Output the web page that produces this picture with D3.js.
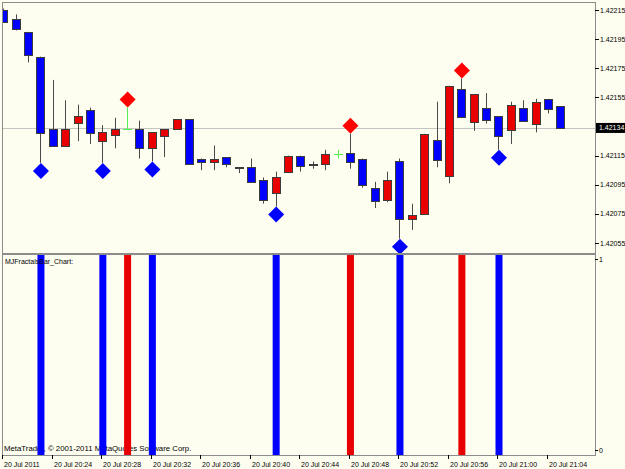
<!DOCTYPE html>
<html>
<head>
<meta charset="utf-8">
<script src="https://cdn.jsdelivr.net/npm/d3@7"></script>
<style>
    body { margin: 0; background: #fefef0; }
    text { font-family: "Liberation Sans", Arial, sans-serif; font-size: 7px; fill: #000; }
</style>
</head>
<body>
<div id="chart"></div>
<script>

// one-minute bars, 20 Jul 2011 20:20 .. 21:05
const barTimes = d3.timeMinute.range(new Date(2011, 6, 20, 20, 20), new Date(2011, 6, 20, 21, 6));

const opens  = [1.42215, 1.42209, 1.42200, 1.42183, 1.42133, 1.42121, 1.42137, 1.42146, 1.42125, 1.42129,
                1.42133, 1.42133, 1.42120, 1.42128, 1.42133, 1.42140, 1.42113, 1.42111, 1.42114, 1.42106,
                1.42107, 1.42098, 1.42089, 1.42104, 1.42115, 1.42108, 1.42109, 1.42116, 1.42117, 1.42113,
                1.42093, 1.42084, 1.42111, 1.42071, 1.42075, 1.42126, 1.42101, 1.42161, 1.42138, 1.42148,
                1.42142, 1.42133, 1.42148, 1.42137, 1.42154, 1.42149];
const highs  = [1.42216, 1.42212, 1.42200, 1.42183, 1.42167, 1.42153, 1.42150, 1.42148, 1.42136, 1.42141,
                1.42148, 1.42139, 1.42131, 1.42133, 1.42140, 1.42140, 1.42113, 1.42122, 1.42114, 1.42107,
                1.42113, 1.42100, 1.42104, 1.42115, 1.42115, 1.42111, 1.42119, 1.42119, 1.42130, 1.42113,
                1.42097, 1.42104, 1.42113, 1.42082, 1.42130, 1.42152, 1.42163, 1.42168, 1.42157, 1.42158,
                1.42142, 1.42152, 1.42153, 1.42154, 1.42154, 1.42149];
const lows   = [1.42207, 1.42201, 1.42179, 1.42110, 1.42121, 1.42121, 1.42125, 1.42123, 1.42110, 1.42120,
                1.42133, 1.42113, 1.42111, 1.42114, 1.42133, 1.42109, 1.42105, 1.42105, 1.42107, 1.42103,
                1.42097, 1.42082, 1.42080, 1.42103, 1.42104, 1.42106, 1.42105, 1.42113, 1.42106, 1.42093,
                1.42079, 1.42083, 1.42058, 1.42064, 1.42075, 1.42107, 1.42096, 1.42142, 1.42132, 1.42137,
                1.42119, 1.42123, 1.42139, 1.42131, 1.42144, 1.42134];
const closes = [1.42207, 1.42202, 1.42184, 1.42131, 1.42121, 1.42133, 1.42142, 1.42130, 1.42131, 1.42133,
                1.42133, 1.42120, 1.42131, 1.42133, 1.42140, 1.42109, 1.42111, 1.42113, 1.42109, 1.42107,
                1.42097, 1.42084, 1.42100, 1.42115, 1.42108, 1.42109, 1.42116, 1.42116, 1.42111, 1.42095,
                1.42084, 1.42098, 1.42071, 1.42074, 1.42130, 1.42112, 1.42163, 1.42142, 1.42157, 1.42140,
                1.42128, 1.42150, 1.42139, 1.42152, 1.42147, 1.42134];

// bar indexes of the fractals (up = red diamond over the high, down = blue diamond under the low)
const fractalUp = [10, 28, 37];
const fractalDown = [3, 8, 12, 22, 32, 40];

const priceTicks = [1.42215, 1.42195, 1.42175, 1.42155, 1.42115, 1.42095, 1.42075, 1.42055];
const bidPrice = 1.42134;
const timeTicks = ["2011-07-20 20:20", "2011-07-20 20:24", "2011-07-20 20:28", "2011-07-20 20:32",
                   "2011-07-20 20:36", "2011-07-20 20:40", "2011-07-20 20:44", "2011-07-20 20:48",
                   "2011-07-20 20:52", "2011-07-20 20:56", "2011-07-20 21:00", "2011-07-20 21:04"];
const indTicks = [0, 1];
const indName = "MJFractalsBar_Chart:";
const copyright = "MetaTrader, \u00a9 2001-2011 MetaQuotes Software Corp.";


class FractalChart {

    constructor(parentElement) {
        this.parentElement = parentElement;
        this.initVis();
    }

    initVis() {
        let vis = this;

        vis.width = 625;
        vis.height = 469;
        vis.main = {left: 2, right: 595, top: 2, bottom: 253};
        vis.ind = {top: 255, bottom: 455};

        vis.svg = d3.select("#" + vis.parentElement).append("svg")
            .attr("width", vis.width)
            .attr("height", vis.height);

        vis.svg.append("rect")
            .attr("width", vis.width).attr("height", vis.height)
            .attr("fill", "#fefef0");

        let defs = vis.svg.append("defs");
        defs.append("clipPath").attr("id", "clipMain").append("rect")
            .attr("x", vis.main.left).attr("y", vis.main.top)
            .attr("width", vis.main.right - vis.main.left)
            .attr("height", vis.main.bottom - vis.main.top);
        defs.append("clipPath").attr("id", "clipInd").append("rect")
            .attr("x", vis.main.left).attr("y", vis.ind.top)
            .attr("width", vis.main.right - vis.main.left)
            .attr("height", vis.ind.bottom - vis.ind.top);

        const parse = d3.timeParse("%Y-%m-%d %H:%M");
        vis.tickDates = timeTicks.map(parse);

        vis.x = d3.scaleTime()
            .domain([barTimes[0], barTimes[barTimes.length - 1]])
            .range([3.3, 560.4]);
        vis.y = d3.scaleLinear()
            .domain([1.42055, 1.42215])
            .range([243, 10]);
        vis.yInd = d3.scaleLinear()
            .domain([0, 1])
            .range([vis.ind.bottom, vis.ind.top]);

        vis.bars = barTimes.map((t, i) => ({
            t: t, open: opens[i], high: highs[i], low: lows[i], close: closes[i]
        }));

        vis.updateVis();
    }

    updateVis() {
        let vis = this;
        const red = "#e80000", blue = "#0000ff", doji = "#55ee55";
        const bodyW = 8;

        // bid line
        vis.svg.append("line")
            .attr("x1", vis.main.left).attr("x2", vis.main.right)
            .attr("y1", Math.round(vis.y(bidPrice)) + 0.5).attr("y2", Math.round(vis.y(bidPrice)) + 0.5)
            .attr("stroke", "#c4c4c0");

        let chart = vis.svg.append("g").attr("clip-path", "url(#clipMain)");

        let colorOf = d => d.close > d.open ? red : (d.close < d.open ? blue : doji);

        // wicks
        chart.selectAll(".wick").data(vis.bars).enter().append("line")
            .attr("class", "wick")
            .attr("x1", d => Math.round(vis.x(d.t)) + 0.5)
            .attr("x2", d => Math.round(vis.x(d.t)) + 0.5)
            .attr("y1", d => vis.y(d.high))
            .attr("y2", d => vis.y(d.low))
            .attr("stroke", d => d.close === d.open ? doji : "#4a4a4a")
            .attr("stroke-width", 1);

        // bodies
        chart.selectAll(".body").data(vis.bars.filter(d => d.close !== d.open)).enter().append("rect")
            .attr("class", "body")
            .attr("x", d => Math.round(vis.x(d.t)) - bodyW / 2 + 0.5)
            .attr("y", d => Math.round(vis.y(Math.max(d.open, d.close))) + 0.5)
            .attr("width", bodyW)
            .attr("height", d => Math.max(1, Math.round(Math.abs(vis.y(d.open) - vis.y(d.close)))))
            .attr("fill", colorOf)
            .attr("stroke", "#3c3c3c")
            .attr("stroke-width", 1);

        // doji crossbars
        chart.selectAll(".doji").data(vis.bars.filter(d => d.close === d.open)).enter().append("line")
            .attr("class", "doji")
            .attr("x1", d => Math.round(vis.x(d.t)) - bodyW / 2)
            .attr("x2", d => Math.round(vis.x(d.t)) + bodyW / 2 + 1)
            .attr("y1", d => Math.round(vis.y(d.open)) + 0.5)
            .attr("y2", d => Math.round(vis.y(d.open)) + 0.5)
            .attr("stroke", doji);

        // fractal diamonds
        const half = 8;
        let diamond = (cx, cy) => `M${cx},${cy - half}L${cx + half},${cy}L${cx},${cy + half}L${cx - half},${cy}Z`;
        chart.selectAll(".fup").data(fractalUp).enter().append("path")
            .attr("d", i => diamond(vis.x(barTimes[i]) + 0.5, vis.y(highs[i]) - half))
            .attr("fill", "#ff0000");
        chart.selectAll(".fdn").data(fractalDown).enter().append("path")
            .attr("d", i => diamond(vis.x(barTimes[i]) + 0.5, vis.y(lows[i]) + half))
            .attr("fill", blue);

        // panel frames
        vis.svg.append("rect")
            .attr("x", vis.main.left + 0.5).attr("y", vis.main.top + 0.5)
            .attr("width", vis.main.right - vis.main.left).attr("height", vis.main.bottom - vis.main.top)
            .attr("fill", "none").attr("stroke", "#8c8c8c");
        vis.svg.append("rect")
            .attr("x", vis.main.left + 0.5).attr("y", vis.ind.top - 0.5)
            .attr("width", vis.main.right - vis.main.left).attr("height", vis.ind.bottom - vis.ind.top + 1)
            .attr("fill", "none").attr("stroke", "#8c8c8c");

        // price axis
        let pAxis = vis.svg.append("g");
        pAxis.selectAll("line").data(priceTicks).enter().append("line")
            .attr("x1", vis.main.right).attr("x2", vis.main.right + 4)
            .attr("y1", d => Math.round(vis.y(d)) + 0.5).attr("y2", d => Math.round(vis.y(d)) + 0.5)
            .attr("stroke", "#000");
        pAxis.selectAll("text").data(priceTicks).enter().append("text")
            .attr("x", vis.main.right + 5)
            .attr("y", d => vis.y(d) + 2.5)
            .text(d => d.toFixed(5));

        pAxis.append("rect")
            .attr("x", vis.main.right + 1).attr("y", vis.y(bidPrice) - 5)
            .attr("width", 30).attr("height", 10)
            .attr("fill", "#000");
        pAxis.append("text")
            .attr("x", vis.main.right + 4)
            .attr("y", vis.y(bidPrice) + 2.5)
            .style("fill", "#fff")
            .text(bidPrice.toFixed(5));

        // indicator panel
        let ind = vis.svg.append("g").attr("clip-path", "url(#clipInd)");
        ind.append("text")
            .attr("x", 4).attr("y", vis.ind.bottom - 4)
            .style("font-size", "7.8px")
            .text(copyright);

        let sigs = fractalUp.map(i => ({i: i, v: 1, c: red}))
            .concat(fractalDown.map(i => ({i: i, v: 1, c: blue})));
        ind.selectAll(".sig").data(sigs).enter().append("rect")
            .attr("x", d => vis.x(barTimes[d.i]) - 3)
            .attr("y", d => vis.yInd(d.v))
            .attr("width", 7)
            .attr("height", d => vis.yInd(0) - vis.yInd(d.v))
            .attr("fill", d => d.c);

        ind.append("text")
            .attr("x", 5).attr("y", vis.ind.top + 9)
            .text(indName);

        let iAxis = vis.svg.append("g");
        iAxis.selectAll("line").data(indTicks).enter().append("line")
            .attr("x1", vis.main.right).attr("x2", vis.main.right + 3)
            .attr("y1", d => vis.yInd(d) + (d === 1 ? 4.5 : -4.5))
            .attr("y2", d => vis.yInd(d) + (d === 1 ? 4.5 : -4.5))
            .attr("stroke", "#000");
        iAxis.selectAll("text").data(indTicks).enter().append("text")
            .attr("x", vis.main.right + 4)
            .attr("y", d => vis.yInd(d) + (d === 1 ? 7 : -2))
            .text(d => d);

        // time axis
        const fmtFirst = d3.timeFormat("%d %b %Y");
        const fmt = d3.timeFormat("%d %b %H:%M");
        let tAxis = vis.svg.append("g");
        tAxis.selectAll("line").data(vis.tickDates).enter().append("line")
            .attr("x1", d => Math.round(vis.x(d)) - 0.5).attr("x2", d => Math.round(vis.x(d)) - 0.5)
            .attr("y1", vis.ind.bottom).attr("y2", vis.ind.bottom + 4)
            .attr("stroke", "#000");
        tAxis.selectAll("text").data(vis.tickDates).enter().append("text")
            .attr("x", d => Math.round(vis.x(d)) + 1)
            .attr("y", vis.ind.bottom + 12)
            .text((d, i) => i === 0 ? fmtFirst(d) : fmt(d));
    }
}

new FractalChart("chart");
</script>
</body>
</html>
